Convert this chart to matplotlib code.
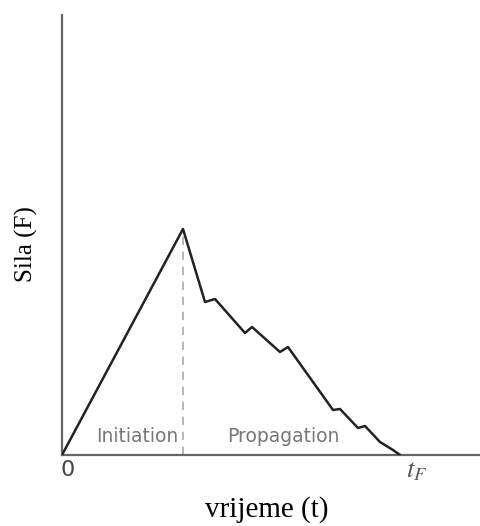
import matplotlib.pyplot as plt

# Force-time curve (arbitrary units)
t = [0, 121, 143, 153, 183, 190, 218, 226, 271, 278, 296, 303, 318, 331, 338]
F = [0, 226, 153, 156, 122, 128, 103, 108, 45, 46, 27, 29, 13, 5, 0]
t_init = 121
t_end = 418
F_top = 440

plt.rcParams['mathtext.fontset'] = 'stix'

fig = plt.figure(figsize=(4.8, 5.26), dpi=100)
ax = fig.add_axes([62 / 480, 1 - 455 / 526, 1 - 62 / 480, 440 / 526])

ax.plot(t, F, color='#222222', lw=1.8, solid_joinstyle='round', zorder=3)
ax.plot([t_init, t_init], [0, F[1]], color='#aaaaaa', lw=1.2, ls=(0, (5, 4)), zorder=2)

ax.set_xlim(0, t_end)
ax.set_ylim(0, F_top)
for s in ['top', 'right']:
    ax.spines[s].set_visible(False)
for s in ['left', 'bottom']:
    ax.spines[s].set_color('#666666')
    ax.spines[s].set_linewidth(1.6)
ax.set_xticks([])
ax.set_yticks([])

ax.text(75, 18, 'Initiation', ha='center', va='center', color='#777777',
        fontsize=13.5, family='DejaVu Sans')
ax.text(221, 18, 'Propagation', ha='center', va='center', color='#777777',
        fontsize=13.5, family='DejaVu Sans')
ax.text(6, -15, '0', ha='center', va='center', color='#444444', fontsize=16,
        family='DejaVu Sans', clip_on=False)
ax.text(355, -15, r'$t_F$', ha='center', va='center', color='#555555',
        fontsize=19, clip_on=False)

fig.text(205 / 480, 1 - 510 / 526, 'vrijeme (t)', ha='left', va='center',
         fontsize=21, family='Liberation Serif')
fig.text(26 / 480, 1 - 244 / 526, 'Sila (F)', ha='center', va='center',
         rotation=90, fontsize=18, family='Liberation Serif')

fig.savefig('out.png', dpi=100)
